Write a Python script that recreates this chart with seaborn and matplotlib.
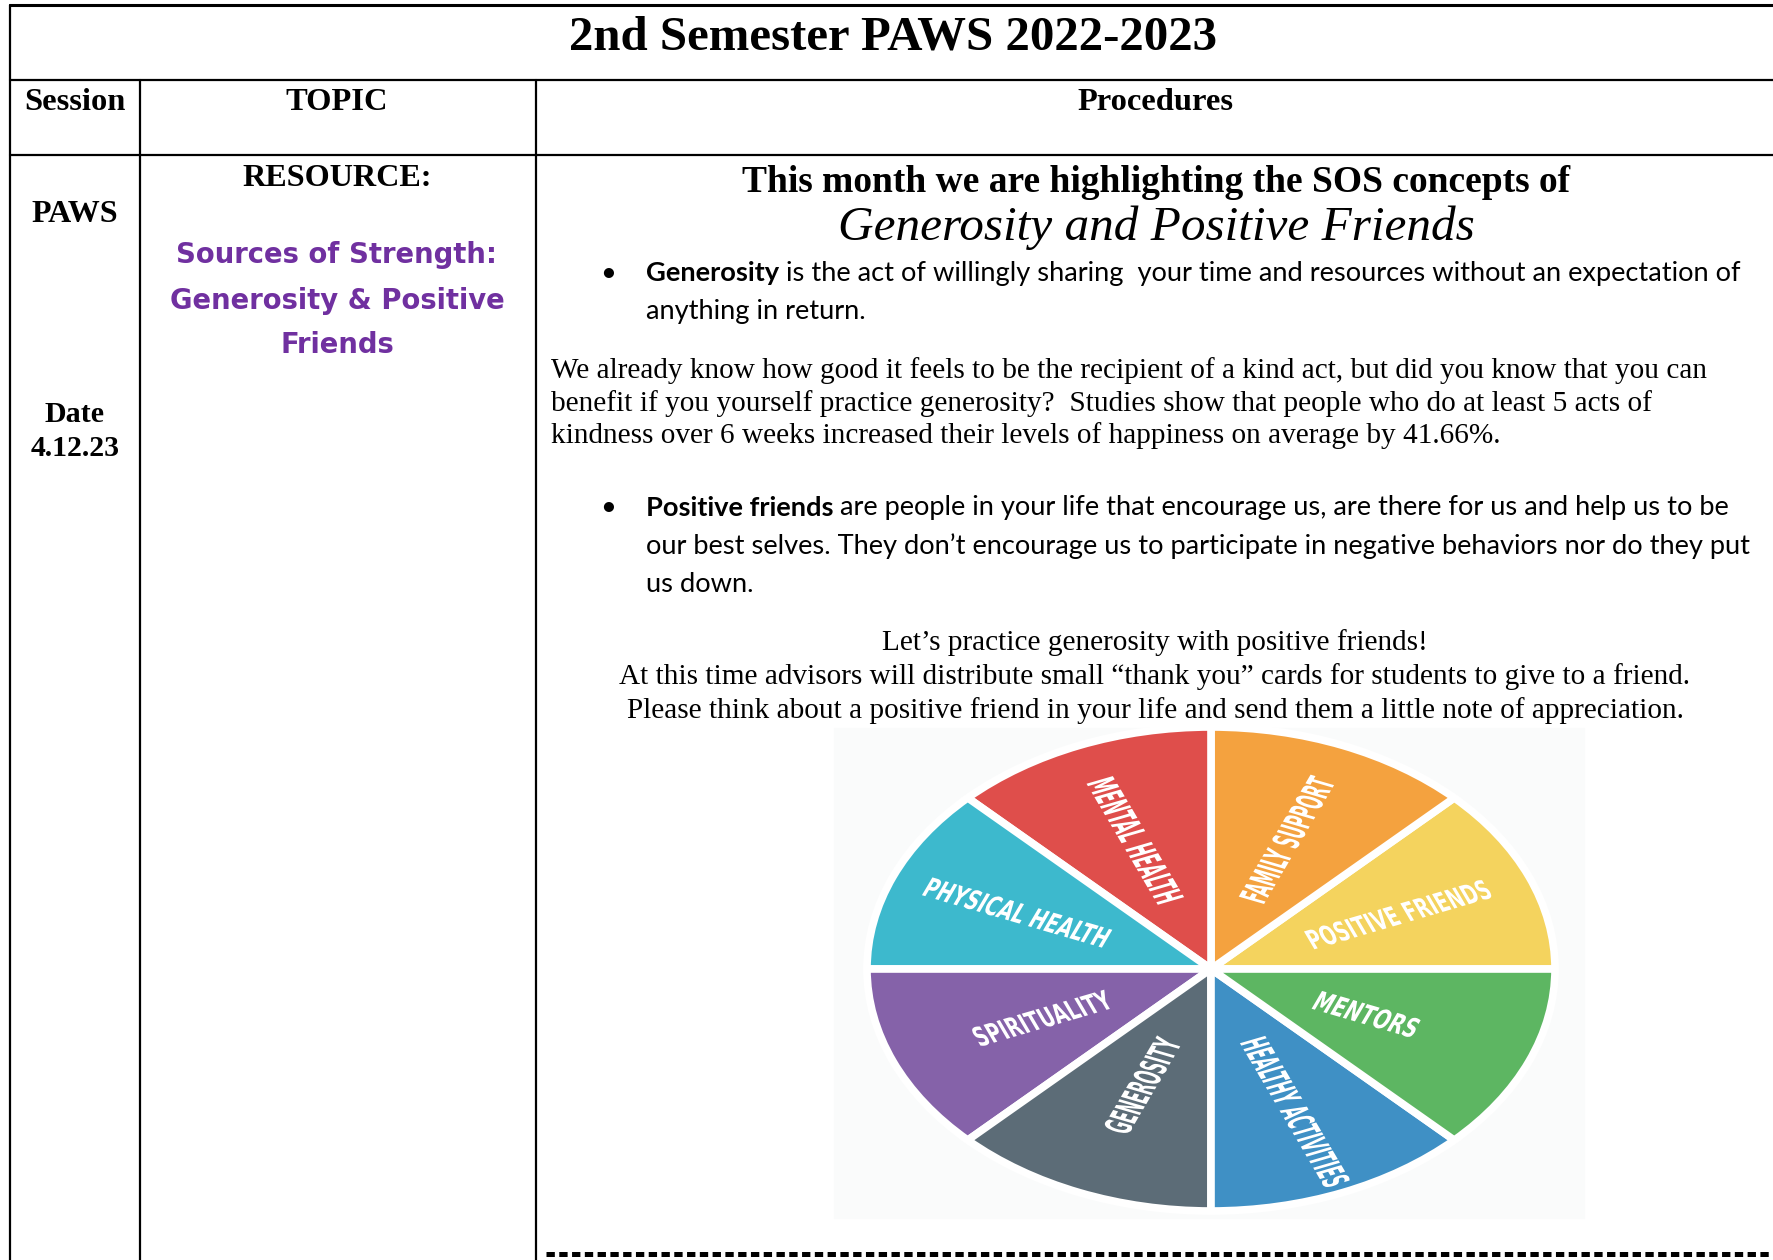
import matplotlib
matplotlib.use("Agg")
import matplotlib.pyplot as plt
import seaborn as sns
import numpy as np
from matplotlib.textpath import TextPath
from matplotlib.patches import PathPatch
from matplotlib.font_manager import FontProperties
from matplotlib.transforms import Affine2D

# ---- data ----
title = "2nd Semester PAWS 2022-2023"
headers = ["Session", "TOPIC", "Procedures"]
session_lines = ["PAWS", "Date", "4.12.23"]
resource_lines = ["Sources of Strength:", "Generosity & Positive", "Friends"]
heading = "This month we are highlighting the SOS concepts of"
heading_script = "Generosity and Positive Friends"
bullet1 = ("Generosity", [" is the act of willingly sharing  your time and resources without an expectation of",
                         "anything in return."])
paragraph = ["We already know how good it feels to be the recipient of a kind act, but did you know that you can",
             "benefit if you yourself practice generosity?  Studies show that people who do at least 5 acts of",
             "kindness over 6 weeks increased their levels of happiness on average by 41.66%."]
bullet2 = ("Positive friends", [" are people in your life that encourage us, are there for us and help us to be",
                               "our best selves. They don\u2019t encourage us to participate in negative behaviors nor do they put",
                               "us down."])
centered = ["Let\u2019s practice generosity with positive friends!",
            "At this time advisors will distribute small \u201cthank you\u201d cards for students to give to a friend.",
            "Please think about a positive friend in your life and send them a little note of appreciation."]

# pie: eight equal sources of strength, counter-clockwise from 3 o'clock
sources = ["POSITIVE FRIENDS", "FAMILY SUPPORT", "MENTAL HEALTH", "PHYSICAL HEALTH",
           "SPIRITUALITY", "GENEROSITY", "HEALTHY ACTIVITIES", "MENTORS"]
shares = [1, 1, 1, 1, 1, 1, 1, 1]
source_colors = ["#F4D35E", "#F4A23F", "#DF4E4B", "#3DB9CD",
                 "#8562A9", "#5C6C77", "#3F90C5", "#5DB662"]
# label layout (radius as fraction of the wheel, text length in wheel pixels)
label_radius = [0.59, 0.58, 0.575, 0.61, 0.53, 0.52, 0.64, 0.49]
label_length = [136, 132, 131, 137, 102, 100, 157, 76]

sns.set_theme(style="white")
plt.rcParams["font.family"] = ["Liberation Serif", "DejaVu Serif"]
plt.rcParams["text.color"] = "black"
plt.rcParams["lines.scale_dashes"] = False

W, H = 1774, 1260
fig = plt.figure(figsize=(W / 100, H / 100), dpi=100)
fig.patch.set_facecolor("white")
ax = fig.add_axes([0, 0, 1, 1])
ax.set_xlim(0, W)
ax.set_ylim(H, 0)
ax.axis("off")

serif = ["Liberation Serif", "DejaVu Serif"]
calibri = ["Lato", "DejaVu Sans"]
comic = ["DejaVu Sans"]

# table grid
lw = 1.6
ax.plot([10, W], [5, 5], color="black", lw=2.2)
ax.plot([10, 10], [5, H], color="black", lw=lw)
ax.plot([10, W], [80, 80], color="black", lw=lw)
ax.plot([10, W], [155, 155], color="black", lw=lw)
ax.plot([140, 140], [80, H], color="black", lw=lw)
ax.plot([536, 536], [80, H], color="black", lw=lw)
dash, = ax.plot([546, W], [1254, 1254], color="black", lw=3.6)
dash.set_dashes((6.0, 3.2))
dash.set_dash_capstyle("butt")

# header texts
ax.text(893, 37, title, family=serif, weight="bold", fontsize=35.2, ha="center", va="center")
for x, t in zip([75, 337, 1155], headers):
    ax.text(x, 102, t, family=serif, weight="bold", fontsize=23.4, ha="center", va="center")

for y, t, fs in zip([214, 415, 449], session_lines, [23, 21.6, 21.4]):
    ax.text(75, y, t, family=serif, weight="bold", fontsize=fs, ha="center", va="center")

ax.text(337, 179, "RESOURCE:", family=serif, weight="bold", fontsize=23.1, ha="center", va="center")
for y, t in zip([255, 301, 345], resource_lines):
    ax.text(337, y, t, family=comic, weight="bold", fontsize=19.8, color="#7030A0",
            ha="center", va="center")

ax.text(1156, 182, heading, family=serif, weight="bold", fontsize=27, ha="center", va="center")
ax.text(1156, 228, heading_script, family=serif, style="italic", fontsize=35.5, ha="center", va="center")

renderer = fig.canvas.get_renderer()
body_fs = 19.6


def bullet_block(bold_word, lines, ys):
    ax.text(608, ys[0], "\u2022", family=calibri, fontsize=body_fs, ha="center", va="center")
    b = ax.text(646, ys[0], bold_word, family=calibri, weight="bold", fontsize=body_fs, va="center")
    x1 = b.get_window_extent(renderer).x1
    ax.text(x1, ys[0], lines[0], family=calibri, fontsize=body_fs, va="center")
    for y, t in zip(ys[1:], lines[1:]):
        ax.text(646, y, t, family=calibri, fontsize=body_fs, va="center")


bullet_block(bullet1[0], bullet1[1], [273, 311])
for y, t in zip([371, 404, 436], paragraph):
    ax.text(551, y, t, family=serif, fontsize=21.1, va="center")
bullet_block(bullet2[0], bullet2[1], [508, 546, 585])
for y, t in zip([643, 677, 711], centered):
    ax.text(1155, y, t, family=serif, fontsize=21.1, ha="center", va="center")

# faint image background behind the wheel
ax.add_patch(plt.Rectangle((834, 728), 750, 490, color="#fafbfb", zorder=0))

# the wheel (stretched into an ellipse like the pasted image)
cx, cy, rx, ry = 1211, 969, 344, 242
pax = fig.add_axes([(cx - rx) / W, (H - cy - ry) / H, 2 * rx / W, 2 * ry / H])
palette = sns.color_palette(source_colors)
wedges, _ = pax.pie(shares, colors=palette, startangle=0, counterclock=True, radius=1,
                    wedgeprops=dict(edgecolor="white", linewidth=5.5))
pax.set_aspect("auto")
pax.set_xlim(-1, 1)
pax.set_ylim(-1, 1)
pax.axis("off")

# condensed white labels, drawn in wheel space so they stretch with the ellipse
label_font = FontProperties(family="DejaVu Sans", weight="bold")
cap_px = 20
for w, name, r, length in zip(wedges, sources, label_radius, label_length):
    mid = (w.theta1 + w.theta2) / 2
    rad = np.deg2rad(mid)
    rot = mid if np.cos(rad) > 0 else mid - 180
    tp = TextPath((0, 0), name, size=10, prop=label_font)
    ext = tp.get_extents()
    sx = length / ext.width
    sy = cap_px / ext.height
    tr = (Affine2D()
          .translate(-(ext.x0 + ext.x1) / 2, -(ext.y0 + ext.y1) / 2)
          .scale(sx / ry, sy / ry)
          .rotate_deg(rot)
          .translate(r * np.cos(rad), r * np.sin(rad)))
    pax.add_patch(PathPatch(tr.transform_path(tp), facecolor="white", edgecolor="none",
                            zorder=5))

fig.savefig("out.png", dpi=100)
